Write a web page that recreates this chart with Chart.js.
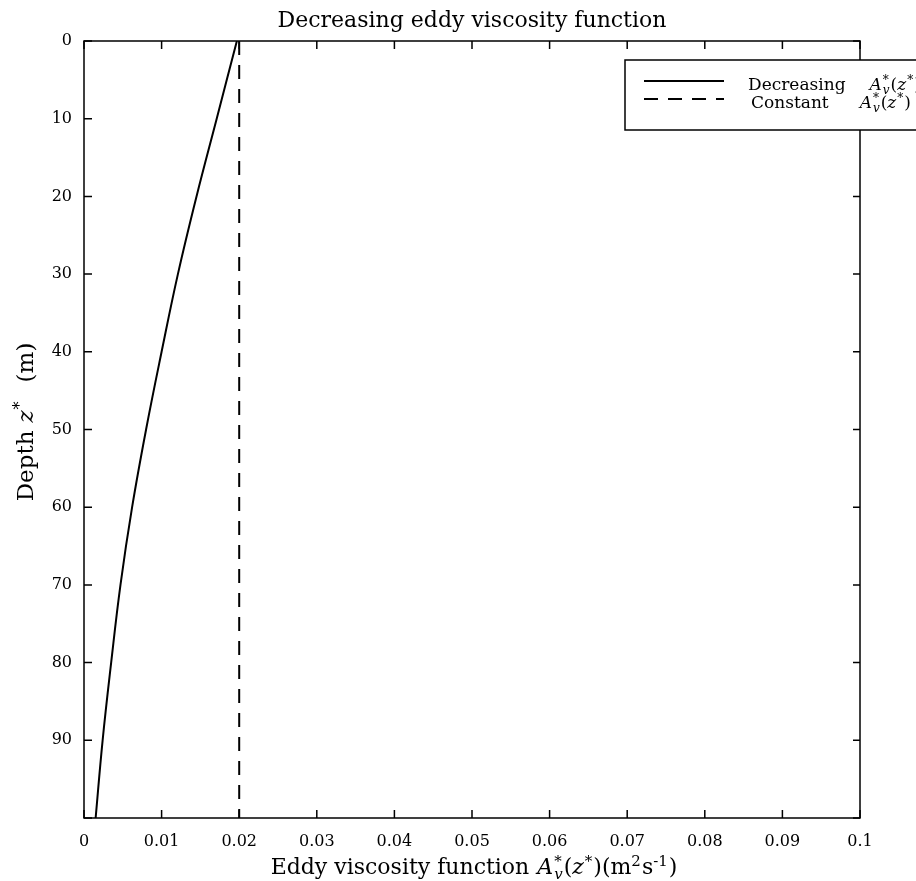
<!DOCTYPE html>
<html>
<head>
<meta charset="utf-8">
<script src="https://cdn.jsdelivr.net/npm/chart.js@4.4.0/dist/chart.umd.min.js"></script>
<style>
  html, body { margin: 0; padding: 0; background: #fff; }
  #wrap { width: 916px; height: 881px; }
</style>
</head>
<body>
<div id="wrap"><canvas id="chart"></canvas></div>
<script>
// depth z* (m) against eddy viscosity A_v*(z*) (m^2 s^-1)
const depths = [0, 10, 20, 30, 40, 50, 60, 70, 80, 90, 100];
const decreasingA = [0.0197, 0.0171, 0.0145, 0.0121, 0.0100, 0.0080, 0.0062, 0.0047, 0.0035, 0.0024, 0.0015];
const constantDepths = [0, 100];
const constantA = [0.02, 0.02];
const seriesNames = ['Decreasing', 'Constant'];

const serif = '"DejaVu Serif", "Liberation Serif", serif';

function fontFor(size, italic) {
  return (italic ? 'italic ' : '') + size + 'px ' + serif;
}

// parts: plain strings, {i: 'x'} italic, {sup, sub} scripts stacked at one spot, {gap: px}
function layoutRich(ctx, parts, size) {
  const small = Math.round(size * 0.7);
  const items = [];
  let w = 0;
  parts.forEach(p => {
    if (typeof p === 'string') {
      ctx.font = fontFor(size);
      items.push({ t: p, x: w, dy: 0, f: ctx.font });
      w += ctx.measureText(p).width;
    } else if (p.gap) {
      w += p.gap;
    } else if (p.i) {
      ctx.font = fontFor(size, true);
      items.push({ t: p.i, x: w, dy: 0, f: ctx.font });
      w += ctx.measureText(p.i).width + 1;
    } else {
      let adv = 0;
      if (p.sup) {
        ctx.font = fontFor(small);
        items.push({ t: p.sup, x: w, dy: -size * 0.36, f: ctx.font });
        adv = Math.max(adv, ctx.measureText(p.sup).width);
      }
      if (p.sub) {
        ctx.font = fontFor(small, true);
        items.push({ t: p.sub, x: w, dy: size * 0.22, f: ctx.font });
        adv = Math.max(adv, ctx.measureText(p.sub).width);
      }
      w += adv + 1;
    }
  });
  return { items, w };
}

function drawRich(ctx, parts, x, y, size, align) {
  const lay = layoutRich(ctx, parts, size);
  const x0 = align === 'center' ? x - lay.w / 2 : x;
  ctx.textAlign = 'left';
  ctx.textBaseline = 'alphabetic';
  lay.items.forEach(it => {
    ctx.font = it.f;
    ctx.fillText(it.t, x0 + it.x, y + it.dy);
  });
}

const avLabel = [{ i: 'A' }, { sup: '*', sub: 'v' }, '(', { i: 'z' }, { sup: '*' }, ')'];

const framePlugin = {
  id: 'frame',
  afterDatasetsDraw(chart) {
    const { ctx, chartArea: a, scales } = chart;
    ctx.save();
    ctx.strokeStyle = '#000';
    ctx.lineWidth = 1.5;
    ctx.strokeRect(a.left, a.top, a.right - a.left, a.bottom - a.top);
    ctx.beginPath();
    scales.x.ticks.forEach(t => {
      const px = scales.x.getPixelForValue(t.value);
      ctx.moveTo(px, a.bottom); ctx.lineTo(px, a.bottom - 8);
      ctx.moveTo(px, a.top); ctx.lineTo(px, a.top + 8);
    });
    scales.y.ticks.forEach(t => {
      const py = scales.y.getPixelForValue(t.value);
      ctx.moveTo(a.left, py); ctx.lineTo(a.left + 8, py);
      ctx.moveTo(a.right, py); ctx.lineTo(a.right - 7, py);
    });
    ctx.stroke();
    ctx.restore();
  },
  afterDraw(chart) {
    const { ctx, chartArea: a } = chart;
    const cx = (a.left + a.right) / 2;
    ctx.save();
    ctx.fillStyle = '#000';

    // title
    drawRich(ctx, ['Decreasing eddy viscosity function'], cx, 27, 22, 'center');

    // x axis title
    drawRich(ctx, ['Eddy viscosity function', { gap: 8 }, ...avLabel, '(m', { sup: '2' }, 's', { sup: '-1' }, ')'],
      cx + 2, 874, 22, 'center');

    // y axis title
    ctx.save();
    ctx.translate(33, 422);
    ctx.rotate(-Math.PI / 2);
    drawRich(ctx, ['Depth', { gap: 8 }, { i: 'z' }, { sup: '*' }, { gap: 18 }, '(m)'], 0, 0, 23, 'center');
    ctx.restore();

    // legend box
    const bx = 625, by = 60, bw = 320, bh = 70;
    ctx.fillStyle = '#fff';
    ctx.fillRect(bx, by, bw, bh);
    ctx.strokeStyle = '#000';
    ctx.lineWidth = 1.5;
    ctx.strokeRect(bx, by, bw, bh);
    const rows = [81, 99];
    const textX = [748, 751];
    const mathGap = [24, 31];
    chart.data.datasets.forEach((ds, i) => {
      ctx.save();
      ctx.strokeStyle = ds.borderColor;
      ctx.lineWidth = ds.borderWidth;
      ctx.setLineDash(ds.borderDash || []);
      ctx.beginPath();
      ctx.moveTo(644, rows[i]);
      ctx.lineTo(724, rows[i]);
      ctx.stroke();
      ctx.restore();
      ctx.fillStyle = '#000';
      drawRich(ctx, [seriesNames[i], { gap: mathGap[i] }, ...avLabel], textX[i], rows[i] + 9, 17, 'left');
    });
    ctx.restore();
  }
};

new Chart(document.getElementById('chart'), {
  type: 'scatter',
  data: {
    datasets: [
      {
        label: seriesNames[0],
        data: depths.map((z, i) => ({ x: decreasingA[i], y: z })),
        showLine: true,
        borderColor: '#000',
        borderWidth: 2,
        pointRadius: 0,
        tension: 0.4,
      },
      {
        label: seriesNames[1],
        data: constantDepths.map((z, i) => ({ x: constantA[i], y: z })),
        showLine: true,
        borderColor: '#000',
        borderWidth: 2,
        borderDash: [14, 10],
        pointRadius: 0,
      },
    ],
  },
  options: {
    responsive: true,
    maintainAspectRatio: false,
    animation: false,
    devicePixelRatio: 1,
    layout: { padding: { top: 41, right: 56, left: 0, bottom: 0 } },
    plugins: {
      legend: { display: false },
      tooltip: { enabled: false },
    },
    scales: {
      x: {
        type: 'linear',
        min: 0,
        max: 0.1,
        grid: { display: false, drawTicks: false },
        border: { display: false },
        ticks: {
          stepSize: 0.01,
          padding: 14,
          color: '#000',
          font: { family: serif, size: 16 },
          maxRotation: 0,
          callback: v => String(Number(v.toFixed(2))),
        },
        afterFit: scale => { scale.height = 63; },
      },
      y: {
        type: 'linear',
        reverse: true,
        min: 0,
        max: 100,
        grid: { display: false, drawTicks: false },
        border: { display: false },
        ticks: {
          stepSize: 10,
          padding: 12,
          color: '#000',
          font: { family: serif, size: 16 },
          callback: v => (v === 100 ? '' : String(v)),
        },
        afterFit: scale => { scale.width = 84; },
      },
    },
  },
  plugins: [framePlugin],
});
</script>
</body>
</html>
